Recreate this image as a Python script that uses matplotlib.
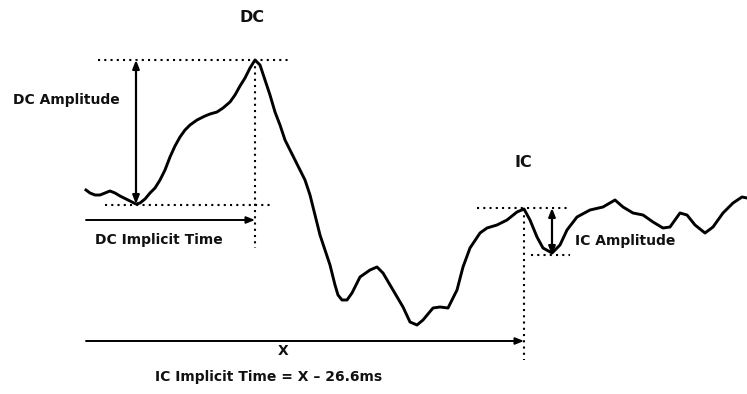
import numpy as np
import matplotlib.pyplot as plt

plt.rcParams['font.family'] = ['DejaVu Sans']

# waveform (pixel units, y grows downward)
wave_x = [86, 90, 95, 100, 105, 110, 115, 120, 128, 136, 140, 145, 150, 155, 160,
          165, 170, 175, 180, 185, 190, 197, 205, 210, 217, 223, 230, 235,
          240, 245, 250, 255, 260, 265, 270, 275, 280, 285, 290, 295, 300, 305, 310,
          315, 320, 325, 330, 335, 338, 342, 347, 352, 360, 370, 377, 383, 393, 403,
          410, 417, 423, 433, 440, 448, 457, 463, 470, 480, 487, 497, 507, 517, 524,
          530, 537, 543, 552, 560, 567, 577, 590, 603, 615, 623, 633, 643, 653, 663,
          670, 680, 687, 695, 705, 713, 723, 733, 742, 747]
wave_y = [190, 193, 195, 195, 193, 191, 193, 196, 200, 204, 203, 199, 193, 188, 180,
          170, 157, 146, 137, 130, 125, 120, 116, 114, 112, 108, 102, 95,
          86, 78, 68, 60, 65, 80, 95, 112, 125, 140, 150, 160, 170, 180, 195,
          215, 235, 250, 265, 285, 295, 300, 300, 293, 277, 270, 267, 273, 290, 307,
          322, 325, 320, 308, 307, 308, 290, 267, 248, 233, 228, 225, 220, 212, 209,
          220, 237, 248, 253, 245, 230, 217, 210, 207, 200, 207, 213, 215, 222, 228,
          227, 213, 215, 225, 233, 227, 213, 203, 197, 198]

wx = np.array(wave_x)
wy = np.array(wave_y)

# landmarks of the response
dc_peak = int(np.argmin(wy))
dc_trough = int(np.argmax(wy[:dc_peak]))
ic_peak = wave_x.index(524)
ic_trough = ic_peak + int(np.argmax(wy[ic_peak:ic_peak + 8]))

fig = plt.figure(figsize=(7.47, 3.94), dpi=100)
ax = fig.add_axes([0, 0, 1, 1])
ax.set_xlim(0, 747)
ax.set_ylim(394, 0)
ax.axis('off')

ax.plot(wx, wy, color='black', lw=2.1, solid_joinstyle='round')

dot = dict(color='black', lw=1.5, linestyle=(0, (1, 2.0)))
arr2 = dict(arrowstyle='<|-|>,head_length=0.5,head_width=0.2', color='black', lw=1.6,
            shrinkA=0, shrinkB=0)
arr1 = dict(arrowstyle='-|>,head_length=0.5,head_width=0.2', color='black', lw=1.4,
            shrinkA=0, shrinkB=0)

# DC markers
px, py = wx[dc_peak], wy[dc_peak]
tx, ty = wx[dc_trough], wy[dc_trough]
ax.plot([98, 288], [py, py], **dot)
ax.plot([105, 273], [ty + 1, ty + 1], **dot)
ax.plot([px, px], [py, 248], **dot)
ax.annotate('', xy=(tx, py), xytext=(tx, ty), arrowprops=arr2)
ax.annotate('', xy=(px, 220), xytext=(86, 220), arrowprops=arr1)

# IC markers
ipx, ipy = wx[ic_peak], wy[ic_peak]
itx, ity = wx[ic_trough], wy[ic_trough]
ax.plot([477, 570], [ipy - 1, ipy - 1], **dot)
ax.plot([531, 570], [ity + 2, ity + 2], **dot)
ax.plot([ipx, ipx], [ipy, 360], **dot)
ax.annotate('', xy=(itx, ipy - 1), xytext=(itx, ity + 2), arrowprops=arr2)
ax.annotate('', xy=(ipx, 341), xytext=(86, 341), arrowprops=arr1)

bold = dict(fontweight='bold', color='#111111')
ax.text(252, 17, 'DC', fontsize=11.5, ha='center', va='center', **bold)
ax.text(13, 100, 'DC Amplitude', fontsize=10, ha='left', va='center', **bold)
ax.text(95, 240, 'DC Implicit Time', fontsize=10, ha='left', va='center', **bold)
ax.text(523, 162, 'IC', fontsize=11.5, ha='center', va='center', **bold)
ax.text(575, 241, 'IC Amplitude', fontsize=10, ha='left', va='center', **bold)
ax.text(283, 351, 'X', fontsize=10, ha='center', va='center', **bold)
ax.text(155, 377, 'IC Implicit Time = X \u2013 26.6ms', fontsize=10, ha='left',
        va='center', **bold)

fig.savefig('out.png', dpi=100)
